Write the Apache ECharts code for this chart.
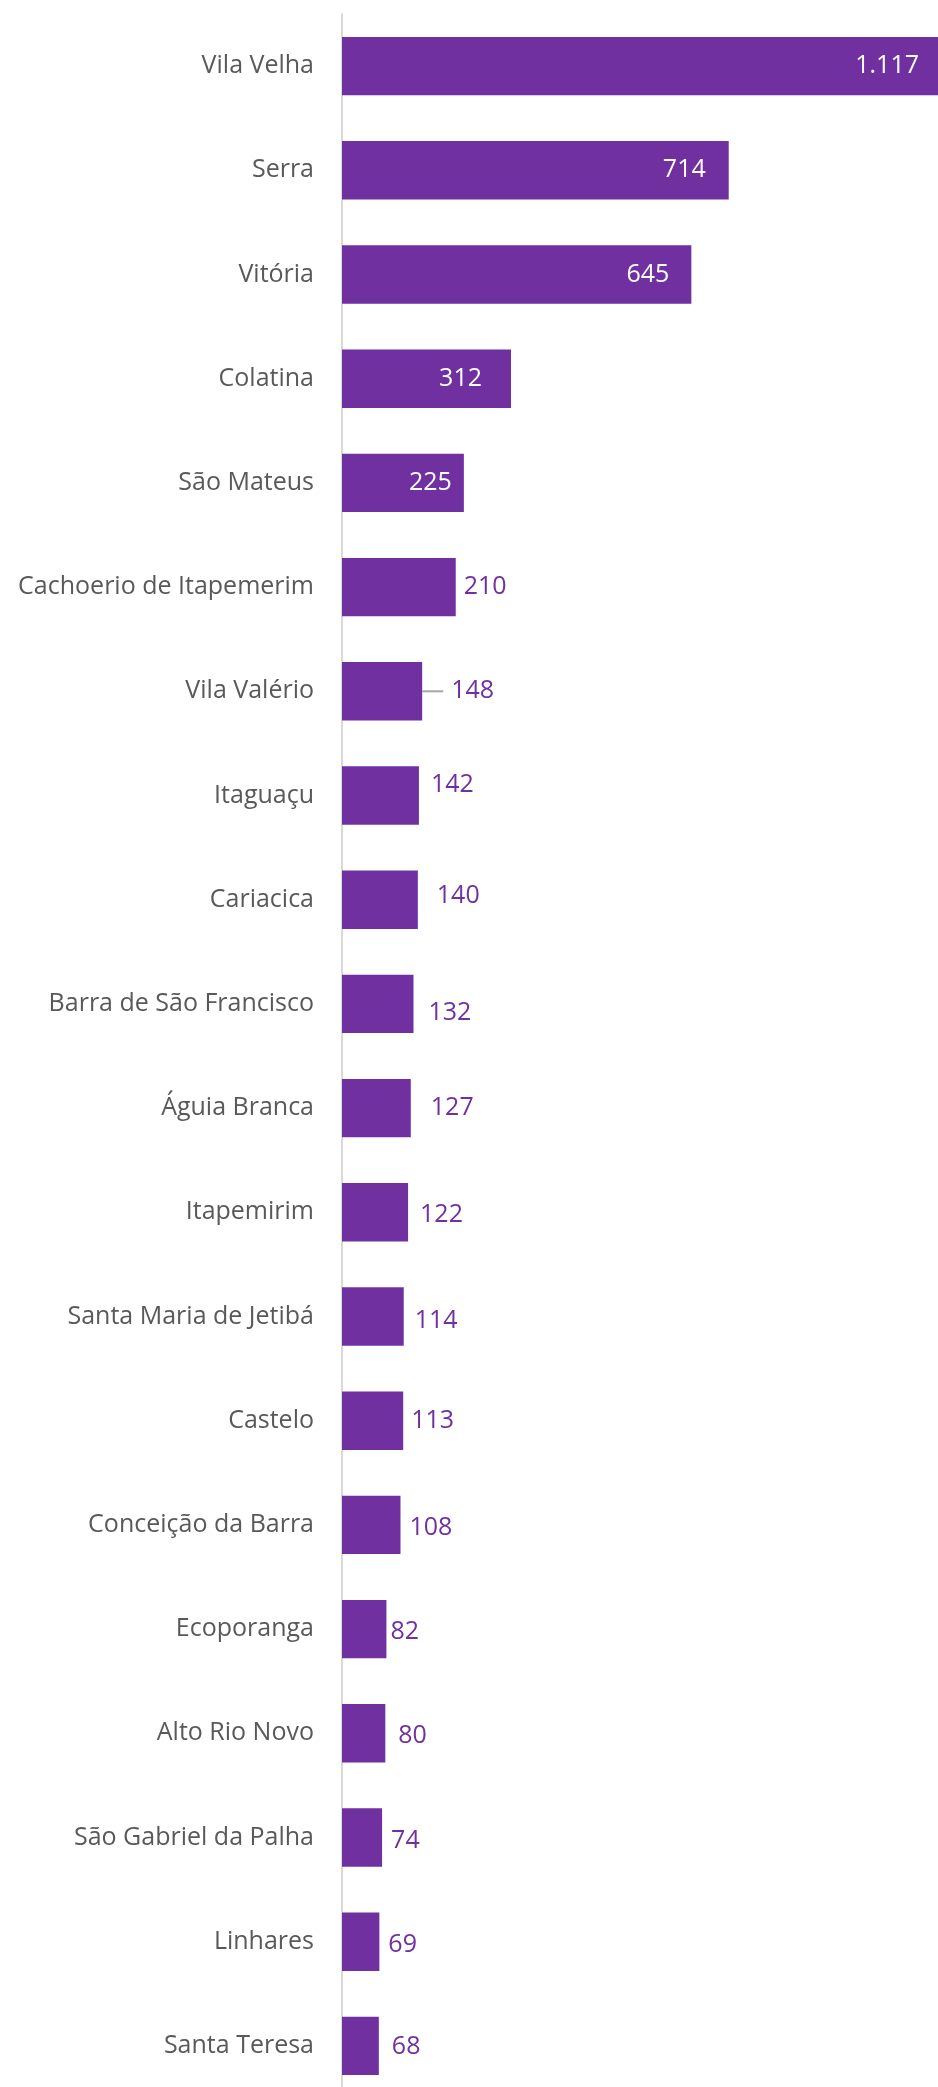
<!DOCTYPE html>
<html>
<head>
<meta charset="utf-8">
<script src="https://cdn.jsdelivr.net/npm/echarts@6/dist/echarts.min.js"></script>
<style>
  html, body { margin: 0; padding: 0; background: #fff; overflow: hidden; }
  /* a área do gráfico passa um pouco da janela, como no original */
  #chart { width: 947px; height: 2098px; }
</style>
</head>
<body>
<div id="chart"></div>
<script>
// municípios, ordem do gráfico (de cima para baixo)
const cities = [
  'Vila Velha', 'Serra', 'Vitória', 'Colatina', 'São Mateus',
  'Cachoerio de Itapemerim', 'Vila Valério', 'Itaguaçu', 'Cariacica',
  'Barra de São Francisco', 'Águia Branca', 'Itapemirim',
  'Santa Maria de Jetibá', 'Castelo', 'Conceição da Barra', 'Ecoporanga',
  'Alto Rio Novo', 'São Gabriel da Palha', 'Linhares', 'Santa Teresa'
]
const values = [1117, 714, 645, 312, 225, 210, 148, 142, 140, 132, 127, 122, 114, 113, 108, 82, 80, 74, 69, 68]

// quantos rótulos ficam dentro da barra
const insideCount = 5
// ajuste fino dos rótulos [dx, dy] (como no original)
const labelNudge = [
  [-28, 0], [-23, 0], [-22, 0], [-29, 0], [-12, 0],
  [8, 0], [0, 0], [12, -11], [19, -4], [15, 9], [20, 0], [12, 3],
  [11, 4], [8, 0], [9, 3], [4, 3], [13, 3], [9, 3], [9, 3], [13, 1]
]
const leaderIndex = 6

const purple = '#7030A0'
const font = '"Open Sans", "Noto Sans", sans-serif'

function fmt(v) {
  return String(v).replace(/\B(?=(\d{3})+(?!\d))/g, '.')
}

const seriesData = values.map((v, i) => {
  const inside = i < insideCount
  return {
    value: v,
    label: {
      position: inside ? 'insideRight' : 'right',
      distance: 0,
      offset: labelNudge[i],
      color: inside ? '#ffffff' : purple
    }
  }
})

const chart = echarts.init(document.getElementById('chart'))
chart.setOption({
  animation: false,
  grid: { left: 342, right: 0, top: 14, bottom: 0, containLabel: false },
  xAxis: {
    type: 'value',
    min: 0,
    max: 1117,
    show: false
  },
  yAxis: {
    type: 'category',
    data: cities,
    inverse: true,
    axisTick: { show: false },
    axisLine: { show: true, lineStyle: { color: '#d9d9d9', width: 2 } },
    axisLabel: {
      color: '#595959',
      fontFamily: font,
      fontSize: 25,
      margin: 28
    },
    splitLine: { show: false }
  },
  series: [
    {
      type: 'bar',
      data: seriesData,
      barCategoryGap: '44%',
      itemStyle: { color: purple },
      label: {
        show: true,
        fontFamily: font,
        fontSize: 25,
        formatter: p => p.dataIndex === leaderIndex
          ? '{l|}{g|}' + fmt(p.value)
          : fmt(p.value),
        rich: {
          l: { width: 21, height: 2, backgroundColor: '#a6a6a6', verticalAlign: 'middle' },
          g: { width: 8, height: 2 }
        }
      }
    }
  ]
})
</script>
</body>
</html>
